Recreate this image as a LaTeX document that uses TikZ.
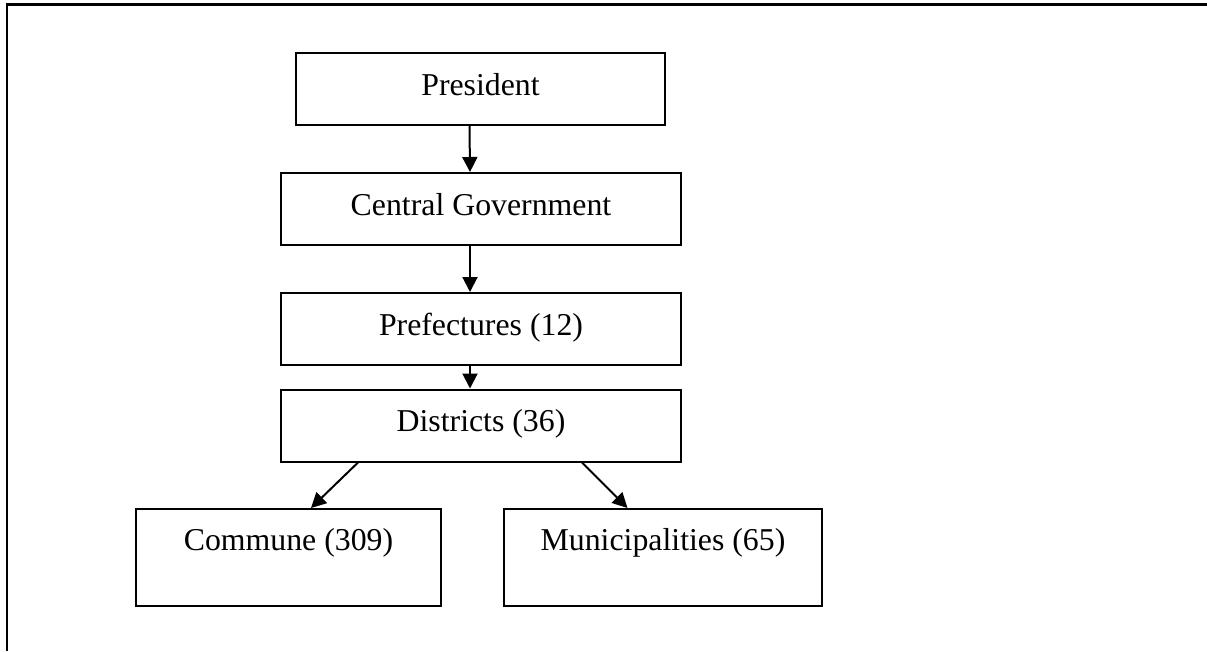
\documentclass[tikz,border=0pt]{standalone}
\usepackage{fontspec}
\setmainfont{Liberation Serif}
\usepackage{tikz}
\usetikzlibrary{positioning}
\usetikzlibrary{arrows.meta,shapes}
\usetikzlibrary{calc}

\begin{document}
\begin{tikzpicture}[auto,
    levelbox/.style={draw, line width=0.04cm, inner sep=0pt, minimum height=1.44cm,
        text height=0.5cm, text depth=0.26cm},
    lowbox/.style={draw, line width=0.04cm, inner sep=0pt, minimum height=1.94cm,
        text height=0.45cm, text depth=0.75cm},
    link/.style={line width=0.04cm, -{Triangle[length=0.3cm,width=0.3cm]}}]

  \fontsize{18.1pt}{22pt}\selectfont
  \useasboundingbox (0,0) rectangle (24.14,-13.02);

	%frame
  \draw[line width=0.045cm] (24.14,-0.09) -- (0.14,-0.09) -- (0.14,-13.02);

	%levels
    \foreach \name/\x/\y/\w/\txt in {pres/9.61/-1.78/7.38/President,
                                     cgov/9.62/-4.18/8.0/Central Government,
                                     pref/9.62/-6.58/8.0/Prefectures (12),
                                     dist/9.62/-8.51/8.0/Districts (36)}{
         \node[levelbox, minimum width=\w cm] (\name) at (\x,\y) {\txt};
    }

    \node[lowbox, minimum width=6.1cm] (comm) at (5.77,-11.15) {Commune (309)};
    \node[lowbox, minimum width=6.36cm] (muni) at (13.26,-11.15) {Municipalities (65)};

	%arrows
  \draw[link] ([xshift=-0.22cm]pres.south) -- ([xshift=-0.22cm]cgov.north);
  \draw[link] ([xshift=-0.22cm]cgov.south) -- ([xshift=-0.22cm]pref.north);
  \draw[link] ([xshift=-0.22cm,yshift=0.04cm]pref.south) -- ([xshift=-0.22cm]dist.north);
  \draw[link] ([xshift=-2.46cm]dist.south) -- ([xshift=0.45cm]comm.north);
  \draw[link] ([xshift=2.02cm]dist.south) -- ([xshift=-0.71cm]muni.north);

\end{tikzpicture}
\end{document}
